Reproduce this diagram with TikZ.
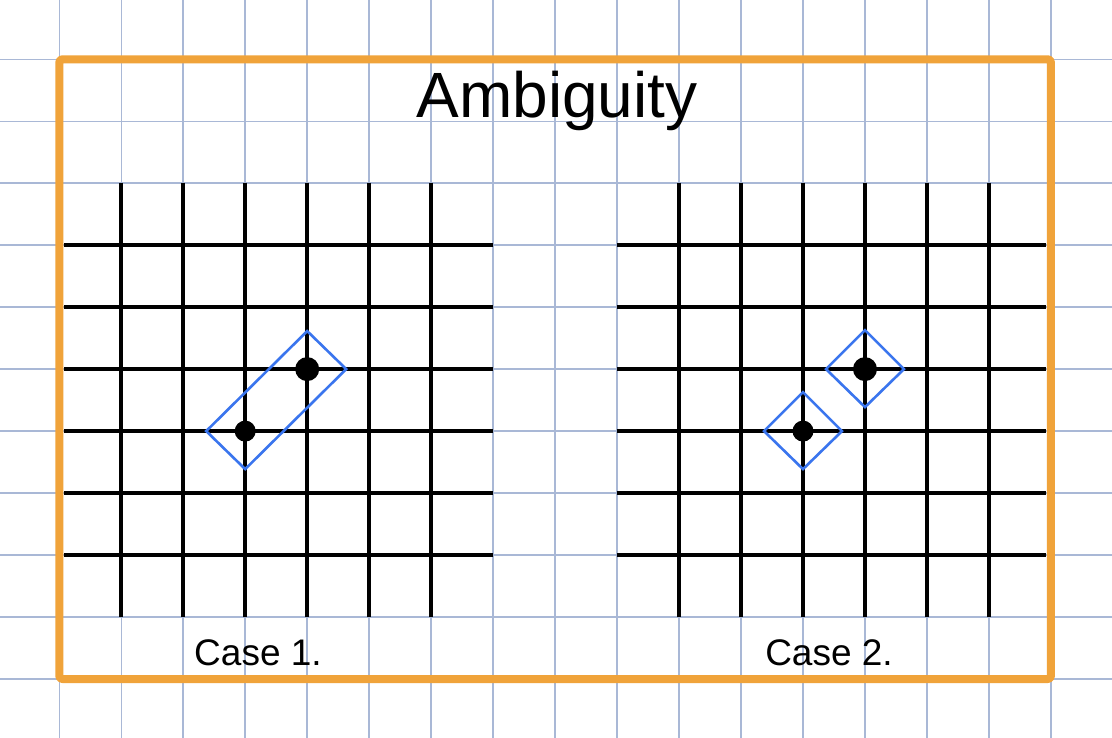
\documentclass[tikz,border=0pt]{standalone}
\usepackage{fontspec}
\setmainfont{Liberation Sans}
\usetikzlibrary{calc}
\definecolor{paperline}{HTML}{A9B8D6}
\definecolor{frameorange}{HTML}{F0A33A}
\definecolor{markblue}{HTML}{3A75EE}
\tikzset{
  paper/.style={draw=paperline, line width=1.5pt},
  frame/.style={draw=frameorange, line width=8pt, rounded corners=3pt, line join=round},
  latt/.style={draw=black, line width=4pt},
  blackdot/.style={circle, fill=black, inner sep=0pt, minimum size=#1},
  bluemark/.style={draw=markblue, line width=2.6pt, line join=miter},
  hand/.style={font=\fontsize{#1}{#1}\selectfont, inner sep=0pt, anchor=base}
}
\begin{document}
\begin{tikzpicture}[x=1pt,y=-1pt]
\useasboundingbox (0,0) rectangle (1112,738);
\fill[white] (0,0) rectangle (1112,738);
% paper grid
\foreach \i in {0,...,17} {
  \draw[paper] ({59.3+\i*61.97},0) -- ({59.3+\i*61.97},738);
}
\foreach \j in {0,...,11} {
  \draw[paper] (0,{59.3+\j*61.97}) -- (1112,{59.3+\j*61.97});
}
% frame
\draw[frame] (59.3,59.3) rectangle (1050.9,679);
% left lattice
\foreach \i in {0,...,5} {
  \draw[latt] ({121.3+\i*61.97},183) -- ({121.3+\i*61.97},617);
  \draw[latt] (64,{245.2+\i*61.97}) -- (493,{245.2+\i*61.97});
}
% right lattice
\foreach \i in {0,...,5} {
  \draw[latt] ({679+\i*61.97},183) -- ({679+\i*61.97},617);
  \draw[latt] (617,{245.2+\i*61.97}) -- (1046,{245.2+\i*61.97});
}
% case 1
\node[blackdot=21pt] (a1) at (245.2,431.1) {};
\node[blackdot=24pt] (a2) at (307.2,369.1) {};
\draw[bluemark] ($(a1)+(-39,0)$) -- ($(a2)+(0,-38)$) -- ($(a2)+(39,0)$) -- ($(a1)+(0,38)$) -- cycle;
% case 2
\node[blackdot=21pt] (b1) at (803,431.1) {};
\node[blackdot=24pt] (b2) at (865,369.1) {};
\draw[bluemark] ($(b1)+(-39,0)$) -- ($(b1)+(0,-39)$) -- ($(b1)+(39,0)$) -- ($(b1)+(0,38)$) -- cycle;
\draw[bluemark] ($(b2)+(-39,0)$) -- ($(b2)+(0,-39)$) -- ($(b2)+(39,0)$) -- ($(b2)+(0,38)$) -- cycle;
% texts
\node[hand=64] (title) at (557,118) {Ambiguity};
\node[hand=37] (c1) at (258,665) {Case 1.};
\node[hand=37] (c2) at (829,665) {Case 2.};
\end{tikzpicture}
\end{document}
